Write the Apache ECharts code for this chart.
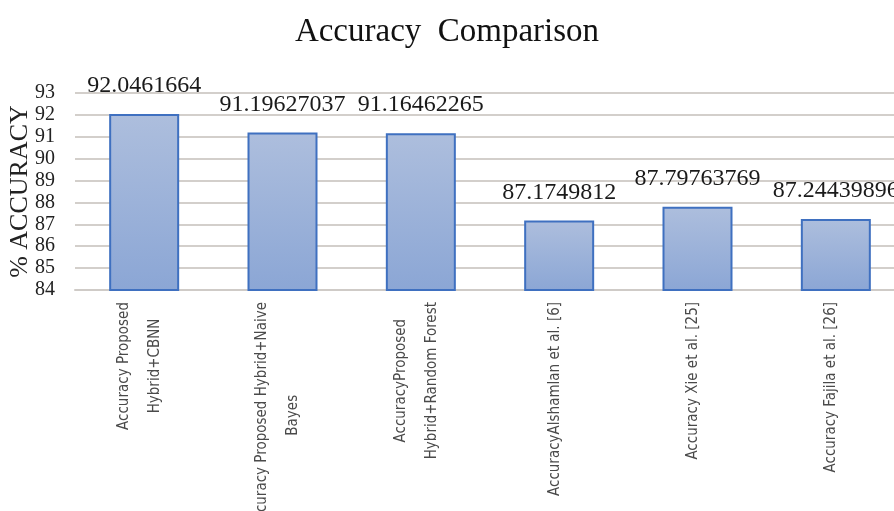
<!DOCTYPE html>
<html>
<head>
<meta charset="utf-8">
<title>Accuracy Comparison</title>
<script src="https://cdn.jsdelivr.net/npm/echarts@6/dist/echarts.min.js"></script>
<style>
  html, body { margin: 0; padding: 0; background: #ffffff; }
  #chart { width: 894px; height: 511px; }
</style>
</head>
<body>
<div id="chart"></div>
<script>
// Model names (line breaks as shown under each bar)
const categories = [
  'Accuracy Proposed\nHybrid+CBNN',
  'Accuracy Proposed Hybrid+Naive\nBayes',
  'AccuracyProposed\nHybrid+Random Forest',
  'AccuracyAlshamlan et al. [6]',
  'Accuracy Xie et al. [25]',
  'Accuracy Fajila et al. [26]'
];

// Accuracy (%) of each model
const accuracy = [92.0461664, 91.19627037, 91.16462265, 87.1749812, 87.79763769, 87.24439896];

// Value axis range
const yMin = 84;
const yMax = 93;
const yStep = 1;

const serif = '"Liberation Serif", "Times New Roman", serif';
const narrow = '"Liberation Sans Narrow", "DejaVu Sans Condensed", "Liberation Sans", sans-serif';

const chart = echarts.init(document.getElementById('chart'), null, { renderer: 'canvas' });

chart.setOption({
  backgroundColor: '#ffffff',
  animation: false,
  title: {
    text: 'Accuracy  Comparison',
    left: 'center',
    top: 11,
    textStyle: { fontFamily: serif, fontSize: 33, fontWeight: 'normal', color: '#111111' }
  },
  grid: { left: 75, right: -11, top: 93, bottom: 221, containLabel: false, outerBoundsMode: 'none' },
  xAxis: {
    type: 'category',
    data: categories,
    axisTick: { show: false },
    axisLine: { show: true, lineStyle: { color: '#cfcbc7', width: 2 } },
    axisLabel: {
      interval: 0,
      rotate: 90,
      margin: 12,
      padding: [0, 0, 9, 0],
      formatter: function (v) {
        return v.split('\n').map(function (s) { return '{c|' + s + '}'; }).join('\n');
      },
      rich: {
        c: { align: 'center', fontFamily: narrow, fontSize: 15, lineHeight: 31, color: '#4a4a4a' }
      }
    }
  },
  yAxis: {
    type: 'value',
    min: yMin,
    max: yMax,
    interval: yStep,
    name: '% ACCURACY',
    nameLocation: 'middle',
    nameGap: 42,
    nameMoveOverlap: false,
    nameRotate: 90,
    nameTextStyle: { fontFamily: serif, fontSize: 26, color: '#222222' },
    axisLine: { show: false },
    axisTick: { show: false },
    axisLabel: { margin: 20, fontFamily: serif, fontSize: 20, color: '#222222', showMinLabel: true, showMaxLabel: true },
    splitLine: { lineStyle: { color: '#d3cfcb', width: 2 } }
  },
  series: [{
    type: 'bar',
    data: accuracy,
    barWidth: 70,
    itemStyle: {
      color: new echarts.graphic.LinearGradient(0, 0, 0, 1, [
        { offset: 0, color: '#adbedd' },
        { offset: 1, color: '#8ba6d5' }
      ]),
      borderColor: '#3f70c0',
      borderWidth: 2
    },
    label: {
      show: true,
      position: 'top',
      distance: 16,
      fontFamily: serif,
      fontSize: 24,
      color: '#1a1a1a',
      formatter: function (p) { return String(p.value); }
    }
  }]
});
</script>
</body>
</html>
